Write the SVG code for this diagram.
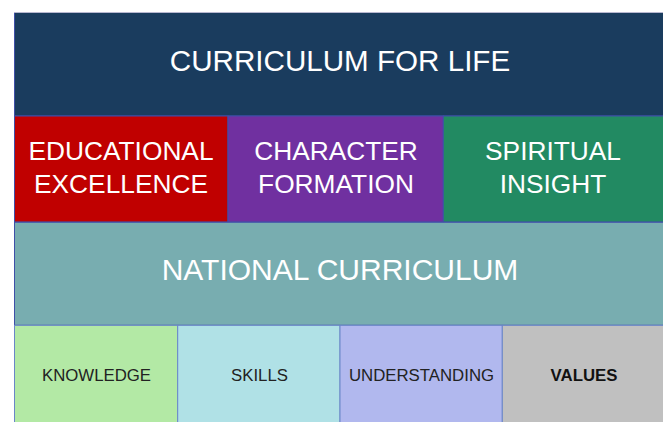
<svg xmlns="http://www.w3.org/2000/svg" width="663" height="422" viewBox="0 0 663 422">
<style>
.cell{stroke:#3f4fa8;stroke-width:1}
.big{font-family:"Liberation Sans",Arial,sans-serif;fill:#ffffff;text-anchor:middle}
.small{font-family:"Liberation Sans",Arial,sans-serif;fill:#222222;text-anchor:middle;font-size:16.8px}
</style>
<rect x="0" y="0" width="663" height="422" fill="#ffffff"/>
<g id="header">
<rect class="cell" x="14.5" y="12.5" width="650" height="103.5" fill="#1a3c5e"/>
<line x1="14" y1="12.5" x2="663" y2="12.5" stroke="#b8b8d0" stroke-width="1"/>
<text class="big" x="340" y="71" font-size="29.6">CURRICULUM FOR LIFE</text>
</g>
<g id="educational">
<rect class="cell" x="14.5" y="116" width="213.5" height="106" fill="#c00000"/>
<text class="big" x="121" y="160" font-size="26.3">EDUCATIONAL</text>
<text class="big" x="121" y="193" font-size="26.3">EXCELLENCE</text>
</g>
<g id="character">
<rect class="cell" x="228" y="116" width="215.3" height="106" fill="#7030a0"/>
<text class="big" x="336" y="160" font-size="26.3">CHARACTER</text>
<text class="big" x="336" y="193" font-size="26.3">FORMATION</text>
</g>
<g id="spiritual">
<rect class="cell" x="443.3" y="116" width="221" height="106" fill="#228a62"/>
<text class="big" x="553" y="160" font-size="26.3">SPIRITUAL</text>
<text class="big" x="553" y="193" font-size="26.3">INSIGHT</text>
</g>
<g id="national">
<rect class="cell" x="14.5" y="222.3" width="650" height="103" fill="#78adb0"/>
<text class="big" x="340" y="280" font-size="30">NATIONAL CURRICULUM</text>
</g>
<g id="knowledge">
<rect class="cell" x="14.5" y="325.3" width="163.2" height="100" fill="#b3e9a5" style="stroke:#6a86c8"/>
<text class="small" x="96.5" y="381">KNOWLEDGE</text>
</g>
<g id="skills">
<rect class="cell" x="177.7" y="325.3" width="162.3" height="100" fill="#b0e1e6" style="stroke:#6a86c8"/>
<text class="small" x="259.5" y="381">SKILLS</text>
</g>
<g id="understanding">
<rect class="cell" x="340" y="325.3" width="162.3" height="100" fill="#b1b8ee" style="stroke:#6a86c8"/>
<text class="small" x="421.5" y="381">UNDERSTANDING</text>
</g>
<g id="values">
<rect class="cell" x="502.3" y="325.3" width="162" height="100" fill="#c0c0c0" style="stroke:#6a86c8"/>
<text class="small" x="584" y="381" font-weight="bold" style="fill:#111111">VALUES</text>
</g>
<g id="connectors"></g>
</svg>
